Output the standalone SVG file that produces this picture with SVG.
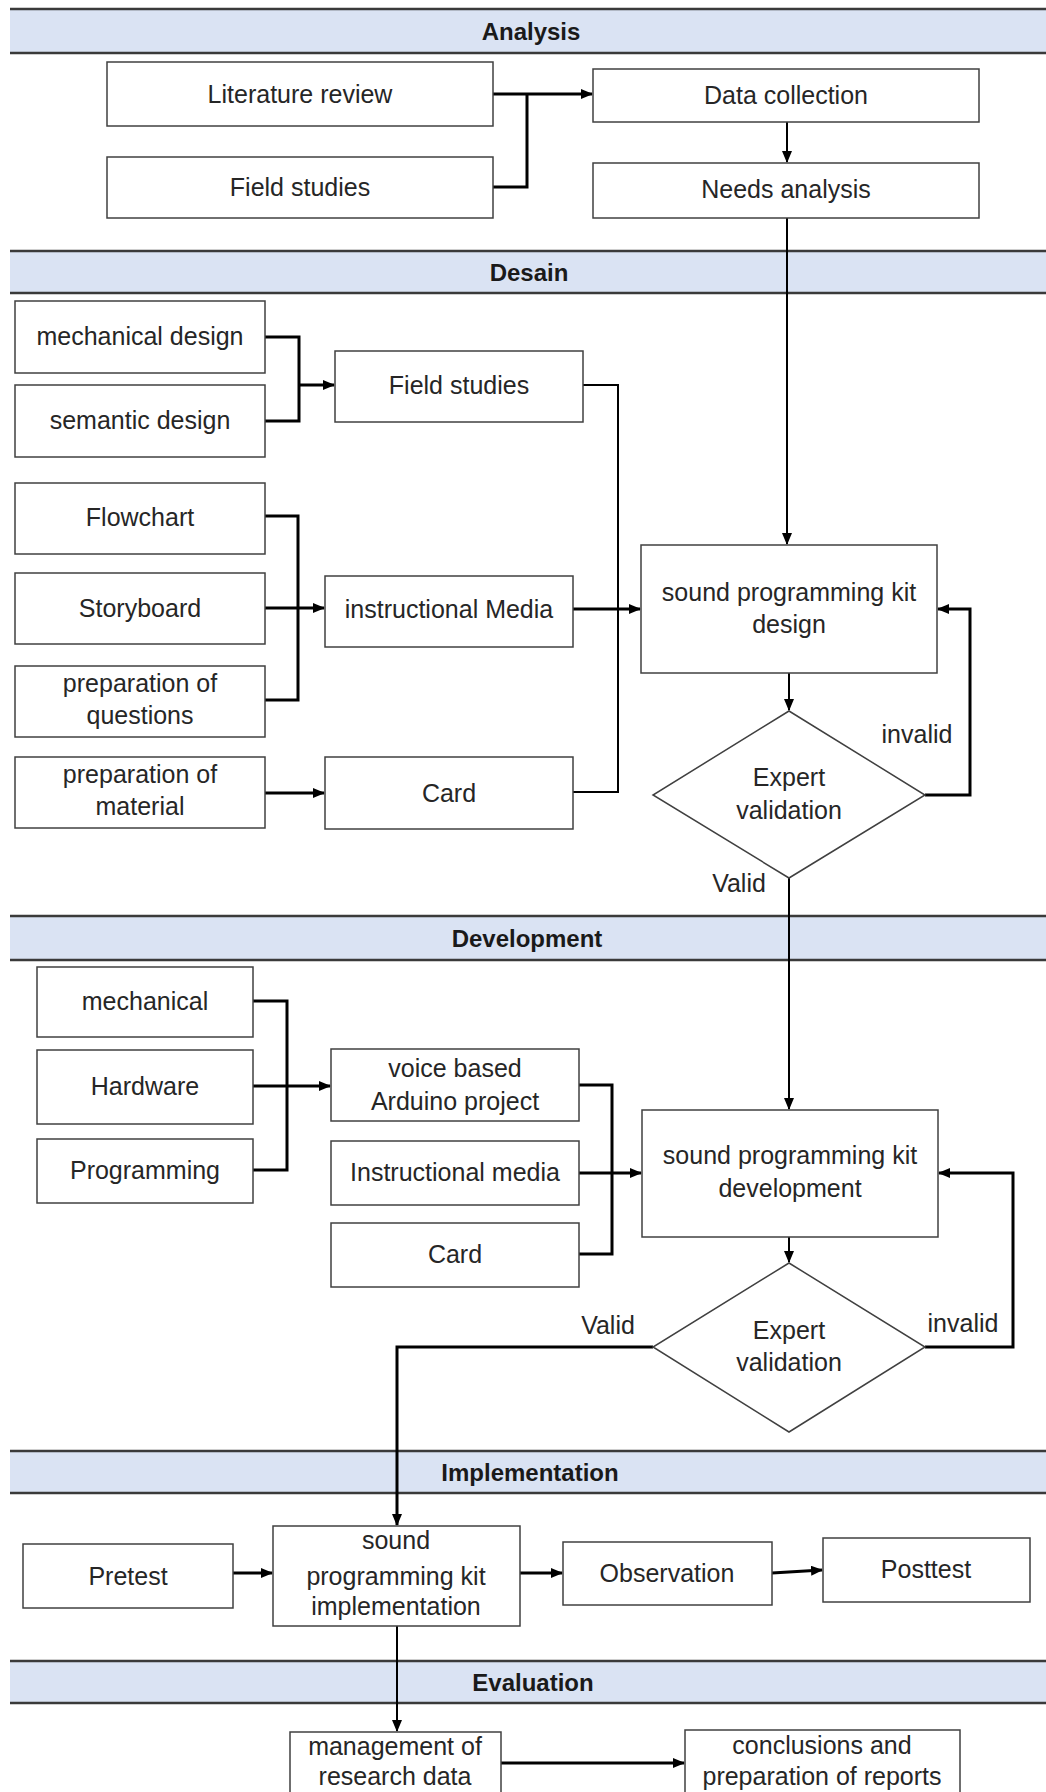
<svg xmlns="http://www.w3.org/2000/svg" width="1046" height="1792" viewBox="0 0 1046 1792">
<style>
.bg{fill:#ffffff}
.hd{fill:#dae3f3}
.hl{stroke:#3a3a3a;stroke-width:2.5;fill:none}
.ht{font-family:"Liberation Sans",Arial,sans-serif;font-size:24px;font-weight:bold;fill:#1a1a1a;text-anchor:middle}
.bx{fill:#ffffff;stroke:#404040;stroke-width:1.5}
.t{font-family:"Liberation Sans",Arial,sans-serif;font-size:25px;fill:#262626;text-anchor:middle}
.lb{font-family:"Liberation Sans",Arial,sans-serif;font-size:25px;fill:#262626;text-anchor:middle}
.c3{stroke:#000;stroke-width:3;fill:none}
.c2{stroke:#000;stroke-width:2;fill:none}
.dm{fill:#ffffff;stroke:#404040;stroke-width:1.5}
</style>
<defs>
<marker id="ah" markerWidth="12" markerHeight="10" refX="11" refY="5" orient="auto" markerUnits="userSpaceOnUse">
<path d="M0,0 L12,5 L0,10 z" fill="#000"/>
</marker>
</defs>
<rect class="bg" x="0" y="0" width="1046" height="1792"/>

<g id="header-analysis">
<rect class="hd" x="10" y="9" width="1040" height="44"/>
<line class="hl" x1="10" y1="9" x2="1046" y2="9"/>
<line class="hl" x1="10" y1="53" x2="1046" y2="53"/>
<text class="ht" x="531" y="40">Analysis</text>
</g>
<g id="header-desain">
<rect class="hd" x="10" y="251" width="1040" height="42"/>
<line class="hl" x1="10" y1="251" x2="1046" y2="251"/>
<line class="hl" x1="10" y1="293" x2="1046" y2="293"/>
<text class="ht" x="529" y="281">Desain</text>
</g>
<g id="header-development">
<rect class="hd" x="10" y="916" width="1040" height="44"/>
<line class="hl" x1="10" y1="916" x2="1046" y2="916"/>
<line class="hl" x1="10" y1="960" x2="1046" y2="960"/>
<text class="ht" x="527" y="947">Development</text>
</g>
<g id="header-implementation">
<rect class="hd" x="10" y="1451" width="1040" height="42"/>
<line class="hl" x1="10" y1="1451" x2="1046" y2="1451"/>
<line class="hl" x1="10" y1="1493" x2="1046" y2="1493"/>
<text class="ht" x="530" y="1481">Implementation</text>
</g>
<g id="header-evaluation">
<rect class="hd" x="10" y="1661" width="1040" height="42"/>
<line class="hl" x1="10" y1="1661" x2="1046" y2="1661"/>
<line class="hl" x1="10" y1="1703" x2="1046" y2="1703"/>
<text class="ht" x="533" y="1691">Evaluation</text>
</g>

<g id="connectors">
<!-- Analysis -->
<path class="c3" d="M493,94 H592" marker-end="url(#ah)"/>
<path class="c3" d="M493,187 H527 V94"/>
<path class="c2" d="M787,122 V162" marker-end="url(#ah)"/>
<path class="c2" d="M787,218 V544" marker-end="url(#ah)"/>
<!-- Desain -->
<path class="c3" d="M265,337 H299 V421 H265"/>
<path class="c3" d="M299,385 H334" marker-end="url(#ah)"/>
<path class="c2" d="M583,385 H618 V792 H573"/>
<path class="c3" d="M573,609 H640" marker-end="url(#ah)"/>
<path class="c3" d="M265,516 H298 V700 H265"/>
<path class="c3" d="M265,608 H324" marker-end="url(#ah)"/>
<path class="c3" d="M265,793 H324" marker-end="url(#ah)"/>
<path class="c2" d="M789,673 V710" marker-end="url(#ah)"/>
<path class="c3" d="M925,795 H970 V609 H938" marker-end="url(#ah)"/>
<path class="c2" d="M789,878 V1109" marker-end="url(#ah)"/>
<!-- Development -->
<path class="c3" d="M253,1001 H287 V1170 H253"/>
<path class="c3" d="M253,1086 H330" marker-end="url(#ah)"/>
<path class="c3" d="M579,1085 H612 V1254 H579"/>
<path class="c3" d="M579,1173 H641" marker-end="url(#ah)"/>
<path class="c2" d="M789,1237 V1262" marker-end="url(#ah)"/>
<path class="c3" d="M925,1347 H1013 V1173 H939" marker-end="url(#ah)"/>
<path class="c3" d="M653,1347 H397 V1525" marker-end="url(#ah)"/>
<!-- Implementation -->
<path class="c3" d="M233,1573 H272" marker-end="url(#ah)"/>
<path class="c3" d="M520,1573 H562" marker-end="url(#ah)"/>
<path class="c3" d="M772,1573 L822,1570" marker-end="url(#ah)"/>
<path class="c2" d="M397,1626 V1731" marker-end="url(#ah)"/>
<!-- Evaluation -->
<path class="c3" d="M501,1763 H684" marker-end="url(#ah)"/>
</g>

<g id="literature-review"><rect class="bx" x="107" y="62" width="386" height="64"/><text class="t" x="300" y="103">Literature review</text></g>
<g id="field-studies-analysis"><rect class="bx" x="107" y="157" width="386" height="61"/><text class="t" x="300" y="196">Field studies</text></g>
<g id="data-collection"><rect class="bx" x="593" y="69" width="386" height="53"/><text class="t" x="786" y="104">Data collection</text></g>
<g id="needs-analysis"><rect class="bx" x="593" y="163" width="386" height="55"/><text class="t" x="786" y="198">Needs analysis</text></g>

<g id="mechanical-design"><rect class="bx" x="15" y="301" width="250" height="72"/><text class="t" x="140" y="345">mechanical design</text></g>
<g id="semantic-design"><rect class="bx" x="15" y="385" width="250" height="72"/><text class="t" x="140" y="429">semantic design</text></g>
<g id="field-studies-desain"><rect class="bx" x="335" y="351" width="248" height="71"/><text class="t" x="459" y="394">Field studies</text></g>
<g id="flowchart"><rect class="bx" x="15" y="483" width="250" height="71"/><text class="t" x="140" y="526">Flowchart</text></g>
<g id="storyboard"><rect class="bx" x="15" y="573" width="250" height="71"/><text class="t" x="140" y="617">Storyboard</text></g>
<g id="preparation-questions"><rect class="bx" x="15" y="666" width="250" height="71"/><text class="t" x="140" y="692">preparation of</text><text class="t" x="140" y="724">questions</text></g>
<g id="instructional-media-desain"><rect class="bx" x="325" y="576" width="248" height="71"/><text class="t" x="449" y="618">instructional Media</text></g>
<g id="preparation-material"><rect class="bx" x="15" y="757" width="250" height="71"/><text class="t" x="140" y="783">preparation of</text><text class="t" x="140" y="815">material</text></g>
<g id="card-desain"><rect class="bx" x="325" y="757" width="248" height="72"/><text class="t" x="449" y="802">Card</text></g>
<g id="spk-design"><rect class="bx" x="641" y="545" width="296" height="128"/><text class="t" x="789" y="601">sound programming kit</text><text class="t" x="789" y="633">design</text></g>
<g id="expert-validation-1"><polygon class="dm" points="789,711 925,795 789,878 653,795"/><text class="t" x="789" y="786">Expert</text><text class="t" x="789" y="819">validation</text></g>
<g id="label-invalid-1"><text class="lb" x="917" y="743">invalid</text></g>
<g id="label-valid-1"><text class="lb" x="739" y="892">Valid</text></g>

<g id="mechanical"><rect class="bx" x="37" y="967" width="216" height="70"/><text class="t" x="145" y="1010">mechanical</text></g>
<g id="hardware"><rect class="bx" x="37" y="1050" width="216" height="74"/><text class="t" x="145" y="1095">Hardware</text></g>
<g id="programming"><rect class="bx" x="37" y="1139" width="216" height="64"/><text class="t" x="145" y="1179">Programming</text></g>
<g id="voice-arduino"><rect class="bx" x="331" y="1049" width="248" height="72"/><text class="t" x="455" y="1077">voice based</text><text class="t" x="455" y="1110">Arduino project</text></g>
<g id="instructional-media-dev"><rect class="bx" x="331" y="1141" width="248" height="64"/><text class="t" x="455" y="1181">Instructional media</text></g>
<g id="card-dev"><rect class="bx" x="331" y="1223" width="248" height="64"/><text class="t" x="455" y="1263">Card</text></g>
<g id="spk-development"><rect class="bx" x="642" y="1110" width="296" height="127"/><text class="t" x="790" y="1164">sound programming kit</text><text class="t" x="790" y="1197">development</text></g>
<g id="expert-validation-2"><polygon class="dm" points="789,1263 925,1347 789,1432 653,1347"/><text class="t" x="789" y="1339">Expert</text><text class="t" x="789" y="1371">validation</text></g>
<g id="label-valid-2"><text class="lb" x="608" y="1334">Valid</text></g>
<g id="label-invalid-2"><text class="lb" x="963" y="1332">invalid</text></g>

<g id="pretest"><rect class="bx" x="23" y="1544" width="210" height="64"/><text class="t" x="128" y="1585">Pretest</text></g>
<g id="spk-implementation"><rect class="bx" x="273" y="1526" width="247" height="100"/><text class="t" x="396" y="1549">sound</text><text class="t" x="396" y="1585">programming kit</text><text class="t" x="396" y="1615">implementation</text></g>
<g id="observation"><rect class="bx" x="563" y="1542" width="209" height="63"/><text class="t" x="667" y="1582">Observation</text></g>
<g id="posttest"><rect class="bx" x="823" y="1538" width="207" height="64"/><text class="t" x="926" y="1578">Posttest</text></g>

<g id="management-data"><rect class="bx" x="290" y="1732" width="211" height="80"/><text class="t" x="395" y="1755">management of</text><text class="t" x="395" y="1785">research data</text></g>
<g id="conclusions"><rect class="bx" x="685" y="1730" width="275" height="82"/><text class="t" x="822" y="1754">conclusions and</text><text class="t" x="822" y="1785">preparation of reports</text></g>
</svg>
